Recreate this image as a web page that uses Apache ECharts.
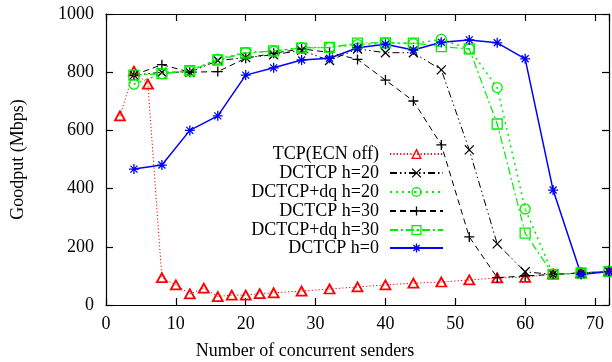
<!DOCTYPE html>
<html>
<head>
<meta charset="utf-8">
<script src="https://cdn.jsdelivr.net/npm/echarts@6/dist/echarts.min.js"></script>
<style>
  html, body { margin: 0; padding: 0; background: #fff; }
  #chart { width: 612px; height: 362px; }
</style>
</head>
<body>
<div id="chart"></div>
<script>
// x positions (number of concurrent senders)
const xTcp = [2, 4, 6, 8, 10, 12, 14, 16, 18, 20, 22, 24, 28, 32, 36, 40, 44, 48, 52, 56, 60, 64, 68, 72];
const xSenders = [4, 8, 12, 16, 20, 24, 28, 32, 36, 40, 44, 48, 52, 56, 60, 64, 68, 72];

// goodput, Mbps
const tcpEcnOff = [650, 804, 759, 94, 69, 38, 58, 29, 34, 34, 39, 42, 48, 55, 62, 69, 75, 79, 86, 93, 95, 107, 110, 117];
const dctcpH20 = [790, 800, 800, 840, 850, 860, 875, 840, 880, 867, 867, 808, 533, 210, 114, 105, 110, 115];
const dctcpDqH20 = [759, 795, 805, 845, 868, 872, 885, 885, 895, 900, 898, 913, 880, 747, 330, 105, 110, 115];
const dctcpH30 = [790, 826, 800, 802, 848, 865, 880, 868, 844, 773, 701, 550, 234, 94, 100, 105, 110, 115];
const dctcpDqH30 = [790, 795, 805, 842, 866, 873, 883, 885, 900, 901, 900, 888, 880, 622, 247, 105, 110, 115];
const dctcpH0 = [467, 481, 600, 650, 790, 815, 842, 848, 884, 896, 876, 903, 911, 901, 846, 395, 105, 115];

const names = ["TCP(ECN off)", "DCTCP h=20", "DCTCP+dq h=20", "DCTCP h=30", "DCTCP+dq h=30", "DCTCP h=0"];

const FONT = "'Liberation Serif', 'Times New Roman', serif";
const CLEAR = "rgba(255,255,255,0)";

const SYM = {
  triangle: "path://M5,0L10,9L0,9Z",
  cross: "path://M0,0L10,10M10,0L0,10",
  circle: "path://M10,5A5,5,0,1,1,0,5A5,5,0,1,1,10,5Z M5,4.4L5,5.6",
  plus: "path://M5,0L5,10M0,5L10,5",
  square: "path://M0,0L10,0L10,10L0,10Z M5,4.4L5,5.6",
  star: "path://M5,0L5,10M0,5L10,5M1.5,1.5L8.5,8.5M8.5,1.5L1.5,8.5",
};

function pairs(xs, ys) {
  return xs.map((x, i) => [x, ys[i]]);
}

function makeSeries(name, xs, ys, color, dash, width, symbol, size, border) {
  return {
    name: name,
    type: "line",
    data: pairs(xs, ys),
    symbol: symbol,
    symbolSize: size,
    showAllSymbol: true,
    animation: false,
    lineStyle: { color: color, width: width, type: dash },
    itemStyle: { color: CLEAR, borderColor: color, borderWidth: border },
    emphasis: { disabled: true },
  };
}

const series = [
  makeSeries(names[0], xTcp, tcpEcnOff, "#ff0000", [1.2, 2.2], 1, SYM.triangle, [10, 9], 1.8),
  makeSeries(names[1], xSenders, dctcpH20, "#000000", [7, 3, 1.5, 3, 1.5, 3], 1, SYM.cross, 9, 1.3),
  makeSeries(names[2], xSenders, dctcpDqH20, "#00ee00", [2, 4], 1.5, SYM.circle, 10, 1.3),
  makeSeries(names[3], xSenders, dctcpH30, "#000000", [6, 4], 1, SYM.plus, 10, 1.3),
  makeSeries(names[4], xSenders, dctcpDqH30, "#00ee00", [8, 3, 2, 3], 1.2, SYM.square, 10, 1.3),
  makeSeries(names[5], xSenders, dctcpH0, "#0000ff", "solid", 1.5, SYM.star, 10, 1.3),
];

// one legend per entry so the labels line up on the right
const legendCenters = [154, 173, 192, 211, 230, 248];
const legends = names.map((name, i) => ({
  data: [name],
  right: 168,
  top: legendCenters[i] - 9,
  padding: 0,
  align: "right",
  itemWidth: 53,
  itemHeight: 11,
  selectedMode: false,
  itemStyle: { color: CLEAR, borderWidth: 1.3 },
  textStyle: { fontFamily: FONT, fontSize: 18, color: "#000", padding: [0, 6, 0, 0] },
}));

const axisLine = { show: true, onZero: false, lineStyle: { color: "#000", width: 1.2 } };
const axisTick = { show: true, inside: true, length: 7, lineStyle: { color: "#000", width: 1.2 } };

const option = {
  backgroundColor: "#fff",
  animation: false,
  grid: { left: 106, right: 3, top: 14, bottom: 57, containLabel: false, outerBoundsMode: "none" },
  legend: legends,
  xAxis: [
    {
      type: "value",
      min: 0,
      max: 72,
      interval: 10,
      position: "bottom",
      axisLine: axisLine,
      axisTick: axisTick,
      splitLine: { show: false },
      axisLabel: {
        fontFamily: FONT,
        fontSize: 18,
        color: "#000",
        margin: 10,
        formatter: (v) => (v % 10 === 0 ? String(v) : ""),
      },
    },
    {
      type: "value",
      min: 0,
      max: 72,
      interval: 10,
      position: "top",
      axisLine: axisLine,
      axisTick: axisTick,
      splitLine: { show: false },
      axisLabel: { show: false },
    },
  ],
  yAxis: [
    {
      type: "value",
      min: 0,
      max: 1000,
      interval: 200,
      position: "left",
      name: "Goodput (Mbps)",
      nameLocation: "middle",
      nameGap: 79,
      nameTextStyle: { fontFamily: FONT, fontSize: 18, color: "#000" },
      axisLine: axisLine,
      axisTick: axisTick,
      splitLine: { show: false },
      axisLabel: { fontFamily: FONT, fontSize: 18, color: "#000", margin: 12, formatter: (v) => String(v) },
    },
    {
      type: "value",
      min: 0,
      max: 1000,
      interval: 200,
      position: "right",
      axisLine: axisLine,
      axisTick: axisTick,
      splitLine: { show: false },
      axisLabel: { show: false },
    },
  ],
  graphic: [
    {
      type: "text",
      x: 305,
      y: 351,
      style: {
        text: "Number of concurrent senders",
        fontFamily: FONT,
        fontSize: 18,
        fill: "#000",
        textAlign: "center",
        textVerticalAlign: "middle",
      },
    },
  ],
  series: series,
};

const chart = echarts.init(document.getElementById("chart"), null, { renderer: "canvas" });
chart.setOption(option);
</script>
</body>
</html>
